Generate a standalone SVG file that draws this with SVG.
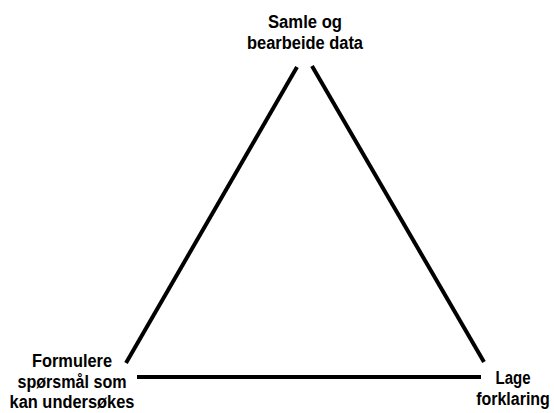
<svg xmlns="http://www.w3.org/2000/svg" width="554" height="413" viewBox="0 0 554 413">
<style>
.t{font-family:"Liberation Sans",Arial,sans-serif;font-weight:bold;font-size:18px;fill:#000;text-anchor:middle}
.r{font-size:16px}
.c{stroke:#000;stroke-width:4;fill:none}
</style>
<rect width="554" height="413" fill="#fff"/>
<g id="connectors">
<line class="c" x1="297" y1="67" x2="126" y2="363"/>
<line class="c" x1="312" y1="66" x2="484" y2="362"/>
<line class="c" x1="137" y1="377" x2="481" y2="377"/>
</g>
<g id="node-top">
<text class="t" x="305" y="28" textLength="74" lengthAdjust="spacingAndGlyphs">Samle og</text>
<text class="t" x="305" y="49" textLength="116" lengthAdjust="spacingAndGlyphs">bearbeide data</text>
</g>
<g id="node-left">
<text class="t" x="72" y="367" textLength="80" lengthAdjust="spacingAndGlyphs">Formulere</text>
<text class="t" x="72" y="388" textLength="109" lengthAdjust="spacingAndGlyphs">spørsmål som</text>
<text class="t" x="72" y="408" textLength="125" lengthAdjust="spacingAndGlyphs">kan undersøkes</text>
</g>
<g id="node-right">
<text class="t r" transform="translate(513,384) scale(1,1.12)" textLength="35" lengthAdjust="spacingAndGlyphs">Lage</text>
<text class="t r" transform="translate(513,405) scale(1,1.12)">forklaring</text>
</g>
</svg>
